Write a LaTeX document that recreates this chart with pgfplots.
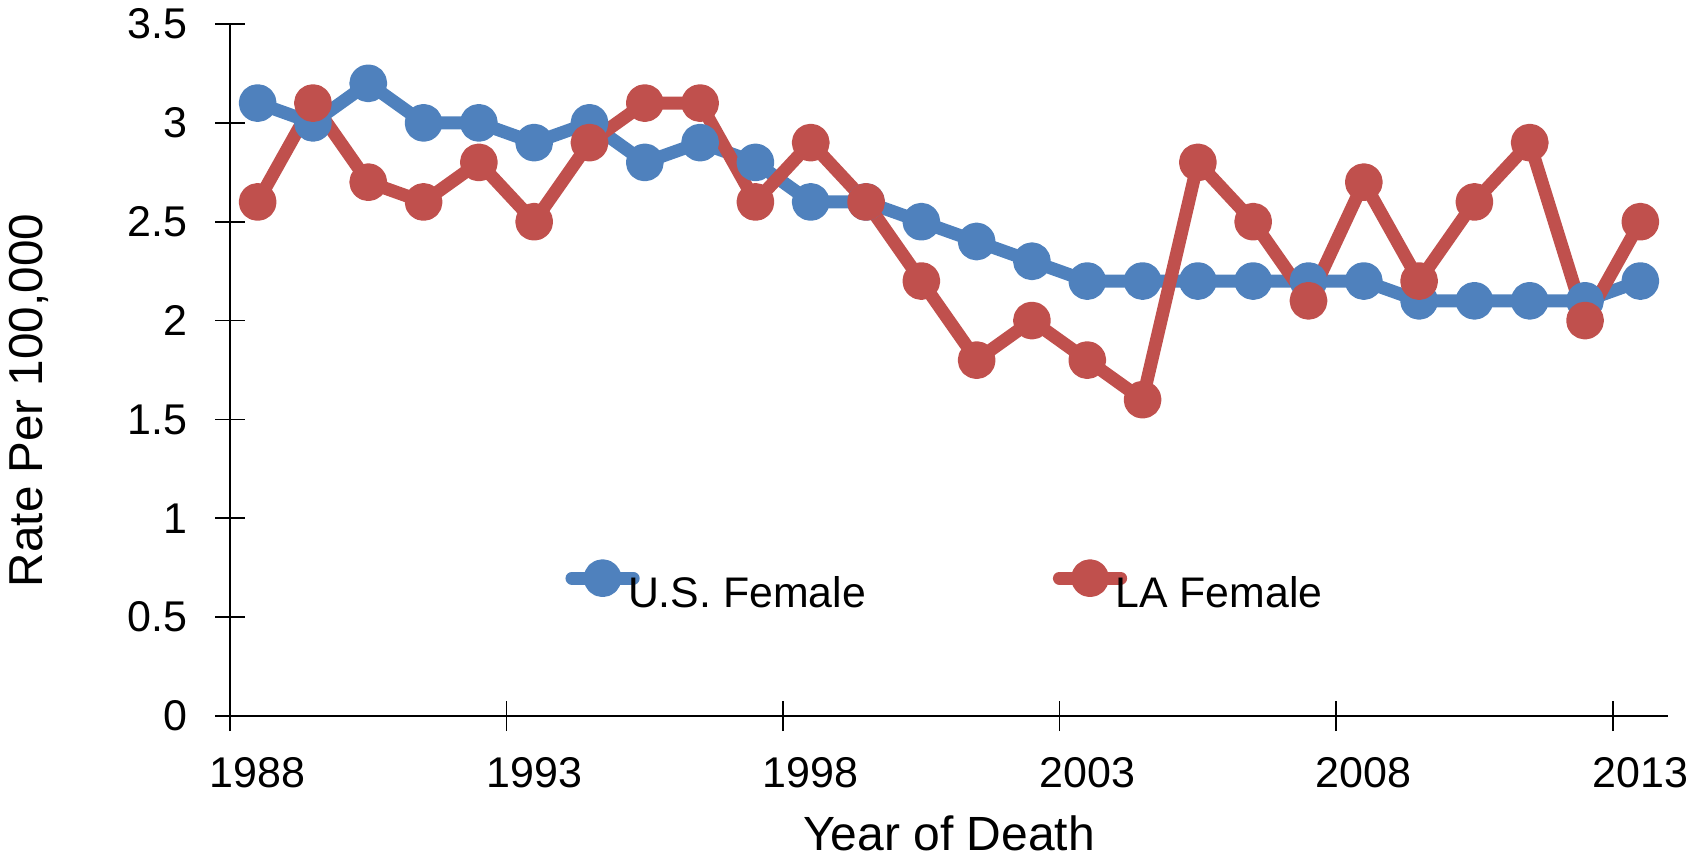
\documentclass[border=0pt]{standalone}
\usepackage{pgfplots}
\usepackage{pgfplotstable}
\pgfplotsset{compat=1.18}
\usepackage{fontspec}
\setmainfont{Liberation Sans}
\definecolor{usblue}{HTML}{4F81BD}
\definecolor{lared}{HTML}{C0504D}
\pgfplotstableread{
year us  la
1988 3.1 2.6
1989 3.0 3.1
1990 3.2 2.7
1991 3.0 2.6
1992 3.0 2.8
1993 2.9 2.5
1994 3.0 2.9
1995 2.8 3.1
1996 2.9 3.1
1997 2.8 2.6
1998 2.6 2.9
1999 2.6 2.6
2000 2.5 2.2
2001 2.4 1.8
2002 2.3 2.0
2003 2.2 1.8
2004 2.2 1.6
2005 2.2 2.8
2006 2.2 2.5
2007 2.2 2.1
2008 2.2 2.7
2009 2.1 2.2
2010 2.1 2.6
2011 2.1 2.9
2012 2.1 2.0
2013 2.2 2.5
}\datatable
\begin{document}
\begin{tikzpicture}
\begin{axis}[
  name=ax,
  at={(0,0)}, anchor=south west,
  scale only axis, width=719bp, height=346bp,
  xmin=1987.5, xmax=2013.5, ymin=0, ymax=3.5,
  axis lines*=left,
  x axis line style={line width=1.3bp},
  y axis line style={line width=0.8bp},
  tick style={black, line width=0.8bp},
  tick align=center, major tick length=15bp,
  minor tick num=0,
  xtick={1987.5,1992.5,1997.5,2002.5,2007.5,2012.5},
  xticklabels={1988,1993,1998,2003,2008,2013},
  ytick={0,0.5,1,1.5,2,2.5,3,3.5},
  yticklabels={0,0.5,1,1.5,2,2.5,3,3.5},
  xticklabel style={font=\fontsize{21.5bp}{25bp}\selectfont, anchor=north, inner sep=0pt, xshift=13.83bp, yshift=-13bp},
  yticklabel style={font=\fontsize{21.5bp}{25bp}\selectfont, anchor=east, inner sep=0pt, xshift=-13.5bp},
  xlabel={Year of Death},
  ylabel={Rate Per 100,000},
  xlabel style={font=\fontsize{24bp}{28bp}\selectfont, at={(axis description cs:0.5,0)}, anchor=base, yshift=-67bp, inner sep=0pt},
  ylabel style={font=\fontsize{23.8bp}{28bp}\selectfont, at={(axis description cs:-0.1307,0.456)}, anchor=base, inner sep=0pt},
  legend columns=2,
  legend style={at={(axis description cs:0.2333,0.185)}, anchor=west, draw=none, fill=none,
    inner sep=0pt, outer sep=0pt,
    font=\fontsize{21.4bp}{25bp}\selectfont,
    nodes={inner sep=0pt},
    /tikz/every odd column/.style={column sep=-5.8bp},
    /tikz/every even column/.style={column sep=93.5bp}},
  legend image code/.code={
    \draw[#1, mark repeat=2, mark phase=2] plot coordinates {(0bp,7.5bp) (15.3bp,7.5bp) (30.6bp,7.5bp)};
  },
]
\addplot[usblue, line width=6.5bp, line join=round, line cap=round, mark=*, mark size=6.2bp, mark options={solid, draw=none, fill=usblue}] table[x=year, y=us] {\datatable};
\addlegendentry{U.S. Female}
\addplot[lared, line width=6.5bp, line join=round, line cap=round, mark=*, mark size=6.2bp, mark options={solid, draw=none, fill=lared}] table[x=year, y=la] {\datatable};
\addlegendentry{LA Female}
\end{axis}
\pgfresetboundingbox
\path[use as bounding box] ([shift={(-115bp,-70.5bp)}]ax.south west) rectangle ([shift={(733bp,358bp)}]ax.south west);
\end{tikzpicture}
\end{document}
